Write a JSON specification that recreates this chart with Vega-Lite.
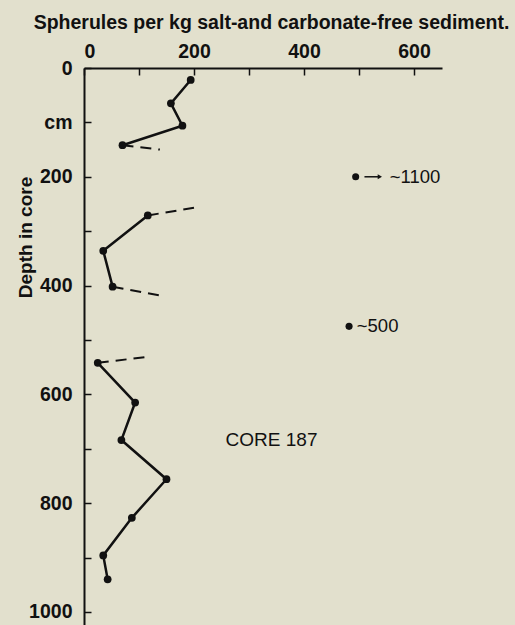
{
  "$schema": "https://vega.github.io/schema/vega-lite/v6.json",
  "width": 358,
  "height": 557,
  "autosize": "none",
  "padding": {"left": 84, "top": 68, "right": 73, "bottom": 0},
  "background": "#e2e0cd",
  "config": {
    "view": {"stroke": null},
    "font": "Liberation Sans",
    "axis": {
      "domainColor": "#111",
      "domainWidth": 2,
      "tickColor": "#111",
      "tickWidth": 1.5,
      "grid": false,
      "labelFont": "Liberation Sans",
      "labelFontWeight": "bold",
      "labelFontSize": 19.5,
      "labelColor": "#111",
      "titleFont": "Liberation Sans",
      "titleFontWeight": "bold",
      "titleColor": "#111"
    }
  },
  "datasets": {
    "solid": [
      {"seg": "A", "count": 194, "depth": 22},
      {"seg": "A", "count": 158, "depth": 65},
      {"seg": "A", "count": 179, "depth": 106},
      {"seg": "A", "count": 70, "depth": 142},
      {"seg": "B", "count": 116, "depth": 271},
      {"seg": "B", "count": 35, "depth": 336},
      {"seg": "B", "count": 52, "depth": 402},
      {"seg": "C", "count": 25, "depth": 542},
      {"seg": "C", "count": 93, "depth": 615},
      {"seg": "C", "count": 68, "depth": 684},
      {"seg": "C", "count": 150, "depth": 756},
      {"seg": "C", "count": 87, "depth": 827},
      {"seg": "C", "count": 35, "depth": 896},
      {"seg": "C", "count": 43, "depth": 940}
    ],
    "dashed": [
      {"seg": "d1", "count": 70, "depth": 142},
      {"seg": "d1", "count": 138, "depth": 150},
      {"seg": "d2", "count": 116, "depth": 271},
      {"seg": "d2", "count": 200, "depth": 257},
      {"seg": "d3", "count": 52, "depth": 402},
      {"seg": "d3", "count": 138, "depth": 418},
      {"seg": "d4", "count": 25, "depth": 542},
      {"seg": "d4", "count": 116, "depth": 531}
    ],
    "isolated": [
      {"count": 494, "depth": 200},
      {"count": 482, "depth": 475}
    ],
    "arrow": [
      {"from": 510, "to": 538, "depth": 200}
    ],
    "notes": [
      {"label": "~1100", "count": 556, "depth": 200},
      {"label": "~500", "count": 496, "depth": 475}
    ],
    "core": [
      {"label": "CORE 187", "count": 341, "depth": 683}
    ]
  },
  "encoding": {
    "x": {
      "field": "count",
      "type": "quantitative",
      "scale": {"domain": [0, 651], "nice": false, "zero": false},
      "axis": {
        "orient": "top",
        "values": [0, 100, 200, 300, 400, 500, 600],
        "format": "d",
        "labelExpr": "datum.value % 200 == 0 ? datum.label : ''",
        "tickSize": -7,
        "labelPadding": 18,
        "labelBaseline": "alphabetic",
        "title": "Spherules per kg salt-and carbonate-free sediment.",
        "titleFontSize": 19.5,
        "titleX": 187,
        "titleY": -40,
        "titleBaseline": "alphabetic",
        "titleAlign": "center"
      }
    },
    "y": {
      "field": "depth",
      "type": "quantitative",
      "scale": {"domain": [0, 1024], "reverse": true, "nice": false, "zero": false},
      "axis": {
        "orient": "left",
        "values": [0, 100, 200, 300, 400, 500, 600, 700, 800, 900, 1000],
        "format": "d",
        "labelExpr": "datum.value == 100 ? 'cm' : (datum.value % 200 == 0 ? datum.label : '')",
        "tickSize": -7,
        "labelPadding": 19,
        "labelBaseline": "middle",
        "title": "Depth in core",
        "titleFontSize": 19,
        "titleAngle": -90,
        "titleX": -59,
        "titleY": 169,
        "titleAlign": "center",
        "titleBaseline": "middle"
      }
    }
  },
  "layer": [
    {
      "data": {"name": "solid"},
      "mark": {"type": "line", "color": "#111", "strokeWidth": 2.5},
      "encoding": {
        "detail": {"field": "seg"},
        "order": {"field": "depth", "type": "quantitative"}
      }
    },
    {
      "data": {"name": "dashed"},
      "mark": {"type": "line", "color": "#111", "strokeWidth": 2, "strokeDash": [11, 7]},
      "encoding": {
        "detail": {"field": "seg"},
        "order": {"field": "count", "type": "quantitative"}
      }
    },
    {
      "data": {"name": "solid"},
      "mark": {"type": "circle", "color": "#111", "size": 60, "opacity": 1}
    },
    {
      "data": {"name": "isolated"},
      "mark": {"type": "circle", "color": "#111", "size": 50, "opacity": 1}
    },
    {
      "data": {"name": "arrow"},
      "mark": {"type": "rule", "color": "#111", "strokeWidth": 1.5},
      "encoding": {
        "x": {"field": "from", "type": "quantitative"},
        "x2": {"field": "to"}
      }
    },
    {
      "data": {"name": "arrow"},
      "mark": {"type": "point", "shape": "triangle-right", "filled": true, "color": "#111", "size": 25, "opacity": 1},
      "encoding": {
        "x": {"field": "to", "type": "quantitative"}
      }
    },
    {
      "data": {"name": "notes"},
      "mark": {"type": "text", "align": "left", "baseline": "middle", "fontSize": 18.5, "color": "#111", "font": "Liberation Sans"},
      "encoding": {"text": {"field": "label"}}
    },
    {
      "data": {"name": "core"},
      "mark": {"type": "text", "align": "center", "baseline": "middle", "fontSize": 19, "color": "#111", "font": "Liberation Sans"},
      "encoding": {"text": {"field": "label"}}
    }
  ]
}
